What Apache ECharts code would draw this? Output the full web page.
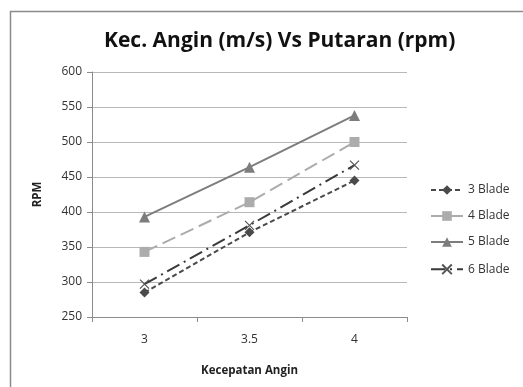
<!DOCTYPE html>
<html><head><meta charset="utf-8">
<script src="https://cdn.jsdelivr.net/npm/echarts@6/dist/echarts.min.js"></script>
<style>html,body{margin:0;padding:0;background:#fff}#c{width:523px;height:387px}</style>
</head><body><div id="c"></div>
<script>
const categories = ['3', '3.5', '4'];
const blade3 = [285, 371, 445];
const blade4 = [343, 414, 500];
const blade5 = [393, 464, 538];
const blade6 = [297, 381, 467];
const seriesNames = ['3 Blade', '4 Blade', '5 Blade', '6 Blade'];
const yTicks = {min: 250, max: 600, interval: 50};

const chart = echarts.init(document.getElementById('c'));
const F = '"Open Sans", "Liberation Sans", sans-serif';
function mk(name, data, color, type, symbol, size, extra) {
  return Object.assign({
    name, type: 'line', data, symbol, symbolSize: size,
    lineStyle: {color, width: 2, type},
    itemStyle: {color},
    animation: false
  }, extra || {});
}
chart.setOption({
  backgroundColor: '#fff',
  animation: false,
  graphic: [{type: 'rect', shape: {x: 10.5, y: 11.5, width: 530, height: 390}, style: {fill: 'none', stroke: '#8a8a8a', lineWidth: 1.5}, z: -1}],
  title: {text: 'Kec. Angin (m/s) Vs Putaran (rpm)', left: 99, top: 26,
    textStyle: {fontFamily: F, fontWeight: 'bold', fontSize: 21, color: '#111'}},
  legend: {orient: 'vertical', left: 425, top: 179, itemGap: 14, itemWidth: 32, itemHeight: 12,
    data: seriesNames,
    textStyle: {fontFamily: F, fontSize: 12, color: '#333'}},
  grid: {left: 92, right: 116, top: 72, bottom: 70},
  xAxis: {type: 'category', data: categories, boundaryGap: true,
    name: 'Kecepatan Angin', nameLocation: 'middle', nameGap: 48,
    nameTextStyle: {fontFamily: F, fontWeight: 'bold', fontSize: 11.5, color: '#222'},
    axisLine: {lineStyle: {color: '#8c8c8c'}},
    axisTick: {show: true, length: 5, lineStyle: {color: '#8c8c8c'}},
    axisLabel: {fontFamily: F, fontSize: 12, color: '#333', margin: 17}},
  yAxis: {type: 'value', min: yTicks.min, max: yTicks.max, interval: yTicks.interval,
    name: 'RPM', nameLocation: 'middle', nameGap: 48, nameRotate: 90,
    nameTextStyle: {fontFamily: F, fontWeight: 'bold', fontSize: 11.5, color: '#222'},
    axisLine: {show: true, lineStyle: {color: '#8c8c8c'}},
    axisTick: {show: true, length: 5, lineStyle: {color: '#8c8c8c'}},
    splitLine: {lineStyle: {color: '#b8b8b8'}},
    axisLabel: {fontFamily: F, fontSize: 12, color: '#333', margin: 10}},
  series: [
    mk('3 Blade', blade3, '#4a4a4a', [5, 3], 'diamond', 10),
    mk('4 Blade', blade4, '#acacac', [14, 6], 'rect', 10),
    mk('5 Blade', blade5, '#7d7d7d', 'solid', 'triangle', 11),
    mk('6 Blade', blade6, '#3a3a3a', [14, 5, 2, 5], 'path://M0,0L10,10M10,0L0,10', 9,
      {itemStyle: {color: 'none', borderColor: '#555', borderWidth: 1.2}})
  ]
});
</script></body></html>
